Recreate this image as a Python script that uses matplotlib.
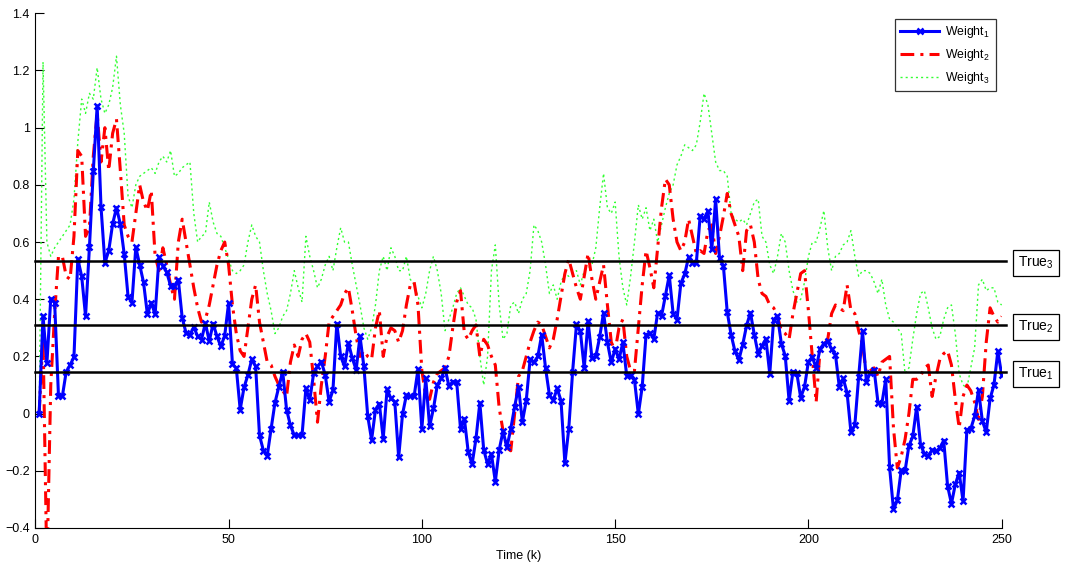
import matplotlib
matplotlib.use("Agg")
import matplotlib.pyplot as plt
from matplotlib.ticker import FixedLocator, FixedFormatter

plt.rcParams['font.family'] = ['Liberation Sans', 'DejaVu Sans']
plt.rcParams['mathtext.default'] = 'regular'

steps = list(range(1, 251))

weight1 = [
    0.00, 0.341, 0.176, 0.402, 0.388, 0.061, 0.061, 0.147, 0.170, 0.198,
    0.541, 0.480, 0.341, 0.582, 0.847, 1.076, 0.723, 0.527, 0.570, 0.663,
    0.720, 0.663, 0.558, 0.409, 0.388, 0.582, 0.520, 0.459, 0.347, 0.388,
    0.347, 0.547, 0.517, 0.494, 0.447, 0.447, 0.468, 0.335, 0.282, 0.276,
    0.303, 0.270, 0.259, 0.317, 0.253, 0.315, 0.270, 0.235, 0.273, 0.386,
    0.174, 0.159, 0.014, 0.092, 0.135, 0.190, 0.165, -0.076, -0.129, -0.147,
    -0.053, 0.038, 0.094, 0.147, 0.014, -0.041, -0.076, -0.076, -0.076, 0.088,
    0.047, 0.141, 0.165, 0.182, 0.135, 0.041, 0.082, 0.315, 0.200, 0.165,
    0.247, 0.194, 0.153, 0.270, 0.165, -0.009, -0.092, 0.014, 0.035, -0.088,
    0.085, 0.053, 0.041, -0.153, -0.002, 0.065, 0.061, 0.061, 0.155, -0.053,
    0.123, -0.045, 0.018, 0.100, 0.123, 0.159, 0.096, 0.112, 0.112, -0.053,
    -0.018, -0.135, -0.176, -0.088, 0.038, -0.127, -0.176, -0.141, -0.238, -0.127,
    -0.061, -0.118, -0.053, 0.024, 0.094, -0.029, 0.045, 0.190, 0.179, 0.200,
    0.276, 0.159, 0.065, 0.047, 0.088, 0.045, -0.174, -0.053, 0.147, 0.312,
    0.288, 0.159, 0.323, 0.194, 0.200, 0.268, 0.353, 0.249, 0.179, 0.226,
    0.190, 0.249, 0.132, 0.135, 0.118, -0.002, 0.094, 0.276, 0.282, 0.261,
    0.353, 0.341, 0.412, 0.484, 0.350, 0.329, 0.456, 0.488, 0.547, 0.527,
    0.527, 0.691, 0.682, 0.708, 0.574, 0.750, 0.543, 0.517, 0.355, 0.276,
    0.218, 0.188, 0.241, 0.308, 0.353, 0.276, 0.209, 0.238, 0.261, 0.139,
    0.329, 0.341, 0.245, 0.202, 0.045, 0.147, 0.141, 0.056, 0.094, 0.182,
    0.198, 0.159, 0.226, 0.245, 0.253, 0.226, 0.206, 0.092, 0.123, 0.073,
    -0.065, -0.041, 0.129, 0.288, 0.112, 0.143, 0.153, 0.038, 0.035, 0.120,
    -0.188, -0.335, -0.303, -0.198, -0.200, -0.112, -0.080, 0.024, -0.108, -0.141,
    -0.147, -0.127, -0.132, -0.120, -0.094, -0.253, -0.315, -0.247, -0.206, -0.306,
    -0.056, -0.053, -0.009, 0.082, -0.026, -0.065, 0.053, 0.100, 0.218, 0.135,
]

weight2 = [
    0.0, 0.27, -0.55, 0.1, 0.35, 0.55, 0.55, 0.48, 0.47, 0.62,
    0.92, 0.9, 0.62, 0.65, 0.9, 1.05, 0.88, 1.0, 0.85, 0.98,
    1.03, 0.85, 0.66, 0.62, 0.6, 0.7, 0.8, 0.74, 0.71, 0.78,
    0.55, 0.5, 0.58, 0.52, 0.45, 0.4, 0.6, 0.68, 0.6, 0.52,
    0.44, 0.37, 0.32, 0.33, 0.38, 0.45, 0.52, 0.57, 0.6, 0.52,
    0.38, 0.28, 0.22, 0.2, 0.3, 0.4, 0.45, 0.32, 0.25, 0.18,
    0.17, 0.13, 0.1, 0.08, 0.06, 0.18, 0.24, 0.2, 0.26, 0.28,
    0.25, 0.12, -0.03, 0.1, 0.2, 0.32, 0.34, 0.36, 0.38, 0.42,
    0.44, 0.36, 0.27, 0.2, 0.22, 0.2, 0.19, 0.3, 0.36, 0.2,
    0.27, 0.3, 0.29, 0.25, 0.29, 0.38, 0.45, 0.46, 0.38, 0.15,
    0.06, 0.05, 0.11, 0.14, 0.15, 0.16, 0.2, 0.3, 0.39, 0.43,
    0.28, 0.26, 0.29, 0.31, 0.2, 0.26, 0.24, 0.2, 0.17, 0.02,
    -0.06, -0.12, -0.13, 0.0, 0.13, 0.15, 0.2, 0.25, 0.29, 0.32,
    0.31, 0.27, 0.23, 0.26, 0.33, 0.41, 0.49, 0.54, 0.49, 0.44,
    0.4, 0.48, 0.56, 0.47, 0.4, 0.46, 0.52, 0.38, 0.25, 0.22,
    0.3, 0.33, 0.2, 0.15, 0.15, 0.3, 0.45, 0.57, 0.51, 0.44,
    0.58, 0.72, 0.82, 0.8, 0.68, 0.6, 0.57, 0.6, 0.68, 0.62,
    0.56, 0.57, 0.56, 0.64, 0.66, 0.56, 0.62, 0.69, 0.77, 0.7,
    0.66, 0.62, 0.5, 0.64, 0.66, 0.6, 0.47, 0.42, 0.41, 0.38,
    0.37, 0.34, 0.29, 0.28, 0.26, 0.35, 0.42, 0.49, 0.5, 0.36,
    0.2, 0.04, 0.22, 0.24, 0.26, 0.35, 0.38, 0.37, 0.36, 0.45,
    0.36, 0.35, 0.29, 0.24, 0.14, 0.15, 0.16, 0.13, 0.18, 0.19,
    0.2, -0.05, -0.19, -0.15, -0.09, 0.0, 0.12, 0.12, 0.13, 0.16,
    0.17, 0.06, 0.13, 0.19, 0.21, 0.22, 0.17, 0.05, -0.05, 0.06,
    0.1, 0.08, 0.04, -0.02, 0.06, 0.25, 0.37, 0.34, 0.32, 0.34,
]

weight3 = [
    0.0, 1.23, 0.6, 0.55, 0.58, 0.6, 0.62, 0.64, 0.66, 0.75,
    0.95, 1.1, 1.05, 1.12, 1.1, 1.21, 1.1, 1.05, 1.08, 1.14,
    1.25, 1.08, 0.98, 0.76, 0.72, 0.8, 0.83, 0.84, 0.85, 0.86,
    0.84, 0.88, 0.9, 0.88, 0.92, 0.83, 0.84, 0.86, 0.87, 0.88,
    0.7, 0.6, 0.62, 0.63, 0.74, 0.67, 0.63, 0.62, 0.58, 0.54,
    0.5, 0.49, 0.5, 0.52, 0.6, 0.66, 0.62, 0.6, 0.5, 0.42,
    0.36, 0.28, 0.3, 0.34, 0.36, 0.42, 0.5, 0.44, 0.39, 0.62,
    0.55, 0.5, 0.44, 0.47, 0.52, 0.55, 0.5, 0.58, 0.65, 0.6,
    0.6, 0.52, 0.45, 0.38, 0.3, 0.26, 0.3, 0.38, 0.5, 0.55,
    0.5, 0.58, 0.55, 0.5, 0.5, 0.55, 0.47, 0.45, 0.41, 0.37,
    0.42, 0.5, 0.55, 0.5, 0.42, 0.29, 0.33, 0.37, 0.42, 0.44,
    0.41, 0.38, 0.37, 0.33, 0.2, 0.1, 0.2, 0.5, 0.59, 0.38,
    0.26, 0.28, 0.38, 0.39, 0.35, 0.4, 0.42, 0.5, 0.66, 0.64,
    0.6, 0.52, 0.42, 0.45, 0.4, 0.46, 0.49, 0.48, 0.49, 0.5,
    0.45, 0.5, 0.51, 0.52, 0.58, 0.72, 0.84, 0.72, 0.7, 0.74,
    0.55, 0.44, 0.38, 0.48, 0.6, 0.73, 0.68, 0.72, 0.64, 0.68,
    0.6, 0.66, 0.72, 0.77, 0.8, 0.87, 0.9, 0.94, 0.93, 0.92,
    0.94, 1.02, 1.12, 1.08, 0.98, 0.88, 0.85, 0.85, 0.83, 0.7,
    0.68, 0.67, 0.68, 0.66, 0.7, 0.74, 0.75, 0.62, 0.6, 0.52,
    0.49, 0.55, 0.63, 0.6, 0.5, 0.43, 0.39, 0.4, 0.46, 0.55,
    0.6, 0.6, 0.65, 0.71, 0.58, 0.5, 0.55, 0.56, 0.59, 0.6,
    0.64, 0.55, 0.48, 0.5, 0.5, 0.49, 0.46, 0.42, 0.47, 0.38,
    0.33, 0.32, 0.3, 0.28, 0.14, 0.16, 0.26, 0.35, 0.42, 0.43,
    0.37, 0.3, 0.26, 0.27, 0.33, 0.37, 0.38, 0.28, 0.14, 0.1,
    0.09, 0.16, 0.23, 0.45, 0.47, 0.43, 0.44, 0.44, 0.39, 0.38,
]

true_values = [0.147, 0.31, 0.535]
true_labels = ['True$_1$', 'True$_2$', 'True$_3$']
series_labels = ['Weight$_1$', 'Weight$_2$', 'Weight$_3$']
x_ticks = [0, 50, 100, 150, 200, 250]
x_tick_labels = ['0', '50', '100', '150', '200', '250']
y_ticks = [-0.4, -0.2, 0, 0.2, 0.4, 0.6, 0.8, 1, 1.2, 1.4]
y_tick_labels = ['\u22120.4', '\u22120.2', '0', '0.2', '0.4', '0.6', '0.8', '1', '1.2', '1.4']

W, H = 1066, 569
fig = plt.figure(figsize=(W / 100, H / 100), dpi=100)
ax = fig.add_axes([35.3 / W, (H - 528) / H, (1001.7 - 35.3) / W, (528 - 13.3) / H])

l3, = ax.plot(steps, weight3, color='#33ff33', lw=1.0, linestyle=(0, (1.5, 2.2)), zorder=2)
l2, = ax.plot(steps, weight2, color='#ff0000', lw=2.2, linestyle=(0, (4.5, 2.0, 1.0, 2.0)), zorder=3)
l1, = ax.plot(steps, weight1, color='#0000ff', lw=2.2, marker='x', ms=4.5, mew=1.8, zorder=4)

for tv, tl in zip(true_values, true_labels):
    ax.plot([0, 251], [tv, tv], color='black', lw=1.8, zorder=5, clip_on=False)
    ax.text(254.3, tv - 0.008, tl, fontsize=10, va='center', ha='left',
            bbox=dict(boxstyle='square,pad=0.35', fc='white', ec='black', lw=0.9),
            clip_on=False, zorder=6)

ax.set_xlim(0, 250)
ax.set_ylim(-0.4, 1.4)
ax.xaxis.set_major_locator(FixedLocator(x_ticks))
ax.xaxis.set_major_formatter(FixedFormatter(x_tick_labels))
ax.yaxis.set_major_locator(FixedLocator(y_ticks))
ax.yaxis.set_major_formatter(FixedFormatter(y_tick_labels))
ax.tick_params(direction='in', length=6.5, width=0.8, labelsize=9, pad=4)
ax.spines['top'].set_visible(False)
ax.spines['right'].set_visible(False)
for s in ('left', 'bottom'):
    ax.spines[s].set_linewidth(0.8)
ax.set_xlabel('Time (k)', fontsize=9, labelpad=3)

leg = ax.legend([l1, l2, l3], series_labels, loc='upper right',
                bbox_to_anchor=(995.5 / W, (H - 19) / H), bbox_transform=fig.transFigure,
                fontsize=8.8, frameon=True, fancybox=False, edgecolor='black',
                handlelength=3.2, handletextpad=0.5, borderpad=0.45, labelspacing=0.55,
                borderaxespad=0)
leg.get_frame().set_linewidth(0.9)

fig.savefig('out.png', dpi=100)
